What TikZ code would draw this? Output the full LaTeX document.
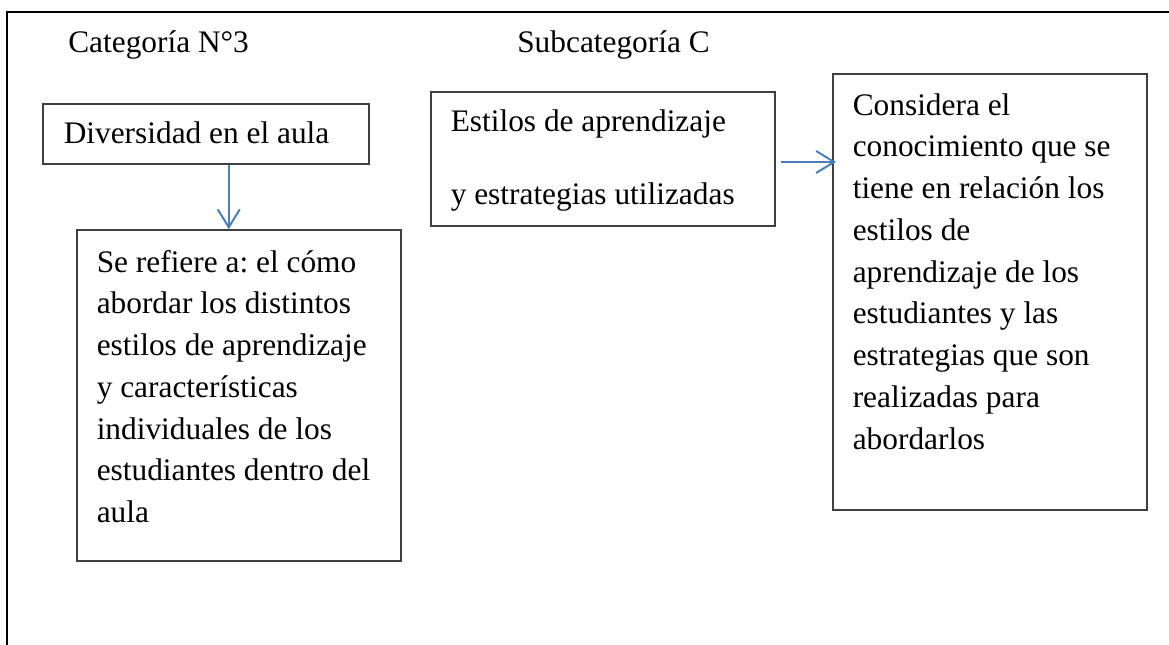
\documentclass[tikz,border=0pt]{standalone}
\usepackage{fontspec}
\setmainfont{Liberation Serif}
\usetikzlibrary{arrows.meta}
\newlength{\pxu}
\setlength{\pxu}{0.025cm}
\frenchspacing

\begin{document}
\begin{tikzpicture}[x=0.025cm,y=-0.025cm,
  caja/.style={draw=black!75, line width=1.1pt, anchor=base west, inner ysep=0pt,
    align=flush left, font=\fontsize{22.3}{29.7}\selectfont},
  titulo/.style={anchor=base west, inner sep=0pt, font=\fontsize{22.3}{29.7}\selectfont},
  flecha/.style={draw={rgb,255:red,74;green,126;blue,187}, line width=1.4pt,
    -{Straight Barb[length=0.45cm,width=0.55cm,line width=1.4pt]}},
  marco/.style={draw=black, line width=1.6pt}]
\useasboundingbox (0,0) rectangle (1169,644);
\draw[marco] (1200,12) -- (7,12) -- (7,680);

\node[titulo] (cat) at (68,53) {Categoría N°3};
\node[titulo] (subcat) at (517,53) {Subcategoría C};

\node[caja, inner xsep=21\pxu, text width=284\pxu, text height=39\pxu, text depth=21\pxu]
  (diversidad) at (42,143) {Diversidad en el aula};
\node[caja, inner xsep=20\pxu, text width=284\pxu, text height=42\pxu, text depth=289\pxu]
  (serefiere) at (76,272) {Se refiere a: el cómo\\ abordar los distintos\\ estilos de aprendizaje\\
  y características\\ individuales de los\\ estudiantes dentro del\\ aula};
\node[caja, inner xsep=20\pxu, text width=304\pxu, text height=39\pxu, text depth=95\pxu,
  font=\fontsize{22.3}{52.6}\selectfont]
  (estilos) at (430,131) {Estilos de aprendizaje\\ y estrategias utilizadas};
\node[caja, inner xsep=20\pxu, text width=274\pxu, text height=41\pxu, text depth=395\pxu]
  (considera) at (832,115) {Considera el\\ conocimiento que se\\ tiene en relación los\\ estilos de\\
  aprendizaje de los\\ estudiantes y las\\ estrategias que son\\ realizadas para\\ abordarlos};

\draw[flecha] ([xshift=0.575cm]diversidad.south) -- ([xshift=0.575cm]diversidad.south |- serefiere.north);
\draw[flecha] ([xshift=0.125cm,yshift=-0.075cm]estilos.east) -- ([xshift=0.1cm,yshift=-0.075cm]estilos.east -| considera.west);
\end{tikzpicture}
\end{document}
